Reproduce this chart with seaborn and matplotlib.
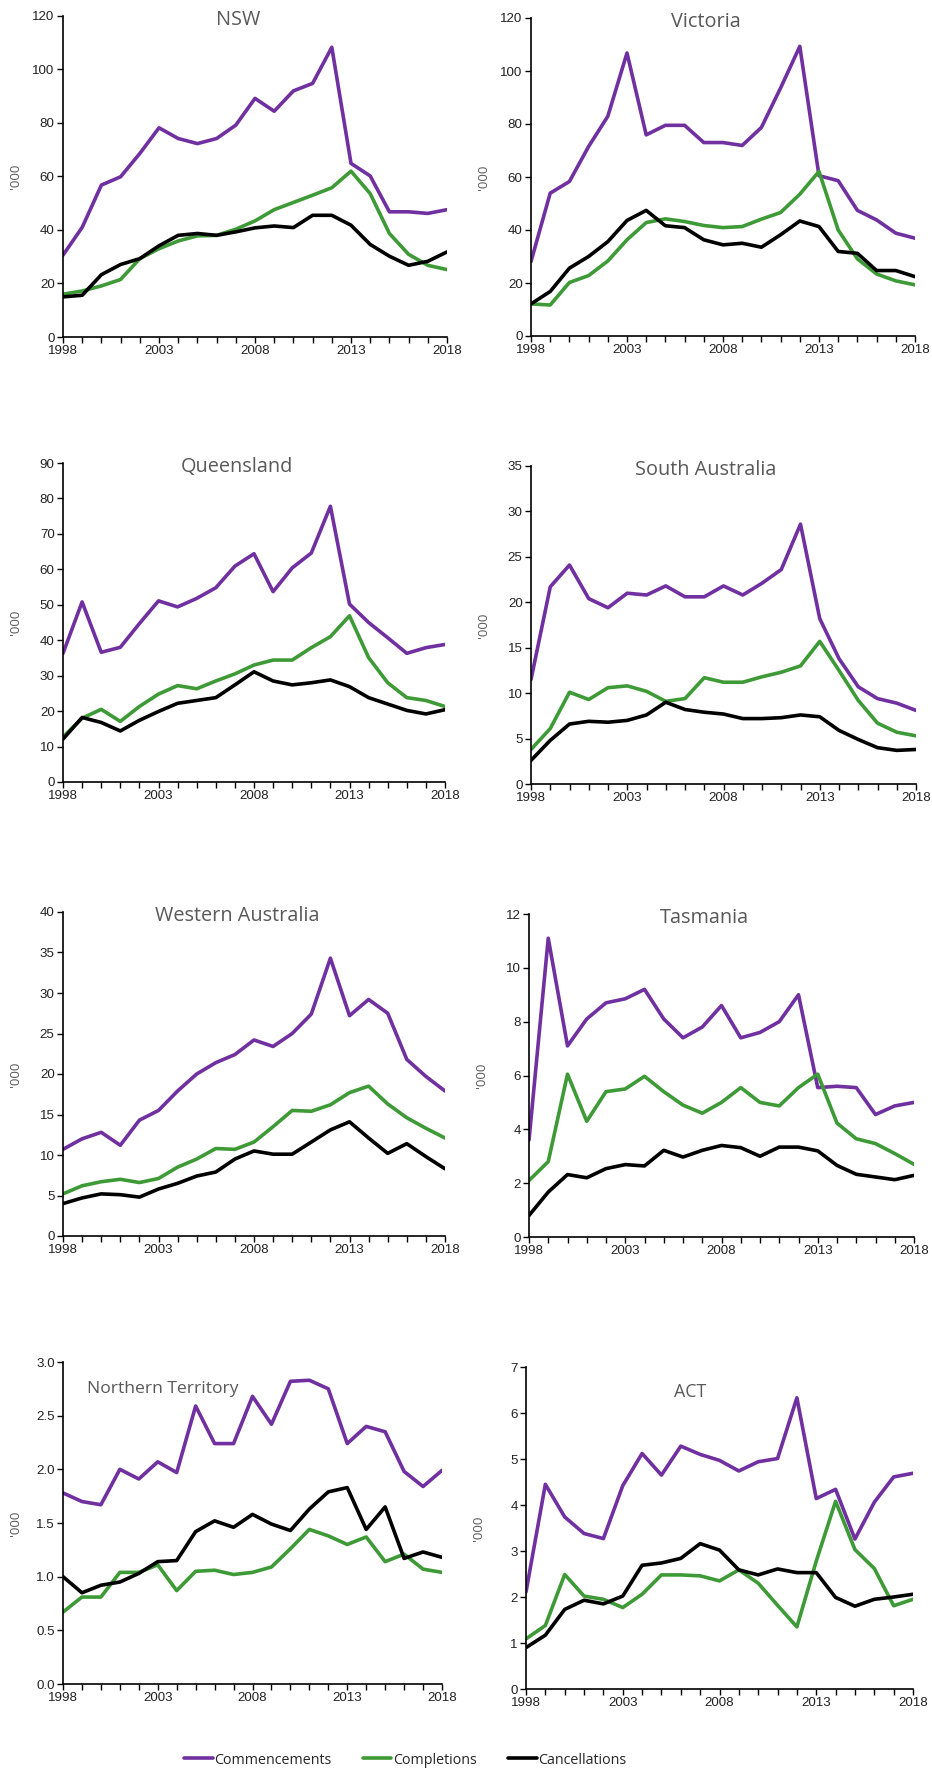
import numpy as np
import pandas as pd
import matplotlib
matplotlib.use("Agg")
import matplotlib.pyplot as plt
import seaborn as sns
from matplotlib.lines import Line2D

years = list(range(1998, 2019))
series_names = ["Commencements", "Completions", "Cancellations"]

nsw_comm = [30.6, 41.0, 56.8, 59.9, 68.6, 78.2, 74.2, 72.3, 74.2, 79.2, 89.2, 84.4, 92.0, 94.8, 108.3, 64.9, 60.2, 46.8, 46.8, 46.2, 47.6]
nsw_compl = [16.0, 17.2, 19.1, 21.5, 29.3, 33.0, 35.9, 37.8, 38.0, 40.3, 43.4, 47.6, 50.3, 53.0, 55.8, 62.0, 53.6, 38.7, 30.9, 26.8, 25.2]
nsw_canc = [15.0, 15.6, 23.3, 27.1, 29.3, 34.1, 38.0, 38.7, 38.0, 39.3, 40.8, 41.5, 40.9, 45.5, 45.5, 41.8, 34.6, 30.2, 26.8, 28.3, 31.8]

vic_comm = [28.1, 53.9, 58.3, 71.5, 82.9, 106.8, 75.9, 79.5, 79.5, 73.0, 73.0, 71.9, 78.7, 93.6, 109.3, 60.5, 58.6, 47.4, 43.8, 38.8, 36.9]
vic_compl = [12.1, 11.7, 20.2, 22.8, 28.3, 36.3, 42.8, 44.2, 43.2, 41.7, 40.9, 41.3, 44.1, 46.6, 53.5, 62.1, 40.0, 29.1, 23.4, 20.8, 19.3]
vic_canc = [12.1, 16.8, 25.6, 30.0, 35.6, 43.6, 47.4, 41.6, 40.9, 36.3, 34.4, 35.0, 33.5, 38.2, 43.4, 41.3, 31.9, 31.2, 24.7, 24.7, 22.4]

qld_comm = [36.3, 50.8, 36.6, 38.0, 44.7, 51.1, 49.4, 51.8, 54.8, 60.9, 64.4, 53.7, 60.4, 64.6, 77.8, 50.2, 45.0, 40.7, 36.3, 37.9, 38.8]
qld_compl = [12.7, 18.0, 20.5, 17.1, 21.3, 24.8, 27.2, 26.3, 28.5, 30.5, 33.0, 34.4, 34.4, 37.9, 41.0, 46.9, 35.1, 28.0, 23.8, 23.0, 21.3]
qld_canc = [12.1, 18.2, 16.8, 14.4, 17.4, 19.9, 22.2, 23.0, 23.8, 27.4, 31.1, 28.5, 27.4, 28.0, 28.8, 26.9, 23.8, 22.0, 20.2, 19.2, 20.4]

sa_comm = [11.5, 21.7, 24.1, 20.4, 19.4, 21.0, 20.8, 21.8, 20.6, 20.6, 21.8, 20.8, 22.1, 23.6, 28.6, 18.2, 13.8, 10.7, 9.4, 8.9, 8.1]
sa_compl = [3.8, 6.1, 10.1, 9.3, 10.6, 10.8, 10.2, 9.1, 9.4, 11.7, 11.2, 11.2, 11.8, 12.3, 13.0, 15.7, 12.5, 9.2, 6.7, 5.7, 5.3]
sa_canc = [2.6, 4.8, 6.6, 6.9, 6.8, 7.0, 7.6, 9.0, 8.2, 7.9, 7.7, 7.2, 7.2, 7.3, 7.6, 7.4, 5.9, 4.9, 4.0, 3.7, 3.8]

wa_comm = [10.7, 12.0, 12.8, 11.2, 14.3, 15.5, 17.9, 20.0, 21.4, 22.4, 24.2, 23.4, 25.0, 27.4, 34.3, 27.2, 29.2, 27.5, 21.8, 19.7, 17.9]
wa_compl = [5.2, 6.2, 6.7, 7.0, 6.6, 7.1, 8.5, 9.5, 10.8, 10.7, 11.6, 13.5, 15.5, 15.4, 16.2, 17.7, 18.5, 16.3, 14.6, 13.3, 12.1]
wa_canc = [4.0, 4.7, 5.2, 5.1, 4.8, 5.8, 6.5, 7.4, 7.9, 9.5, 10.5, 10.1, 10.1, 11.6, 13.1, 14.1, 12.1, 10.2, 11.4, 9.8, 8.3]

tas_comm = [3.6, 11.1, 7.1, 8.1, 8.7, 8.85, 9.2, 8.1, 7.4, 7.8, 8.6, 7.4, 7.6, 8.0, 9.0, 5.55, 5.6, 5.55, 4.55, 4.87, 5.0]
tas_compl = [2.1, 2.8, 6.05, 4.3, 5.4, 5.5, 5.97, 5.4, 4.9, 4.6, 5.0, 5.55, 5.0, 4.87, 5.55, 6.05, 4.23, 3.65, 3.47, 3.1, 2.7]
tas_canc = [0.8, 1.67, 2.32, 2.2, 2.54, 2.69, 2.64, 3.22, 2.97, 3.22, 3.4, 3.32, 3.0, 3.34, 3.34, 3.2, 2.66, 2.33, 2.23, 2.13, 2.29]

nt_comm = [1.78, 1.70, 1.67, 2.00, 1.91, 2.07, 1.97, 2.59, 2.24, 2.24, 2.68, 2.42, 2.82, 2.83, 2.75, 2.24, 2.40, 2.35, 1.98, 1.84, 1.99]
nt_compl = [0.67, 0.81, 0.81, 1.04, 1.04, 1.11, 0.87, 1.05, 1.06, 1.02, 1.04, 1.09, 1.26, 1.44, 1.38, 1.30, 1.37, 1.14, 1.21, 1.07, 1.04]
nt_canc = [1.00, 0.85, 0.92, 0.95, 1.03, 1.14, 1.15, 1.42, 1.52, 1.46, 1.58, 1.49, 1.43, 1.63, 1.79, 1.83, 1.44, 1.65, 1.17, 1.23, 1.18]

act_comm = [2.11, 4.45, 3.74, 3.38, 3.27, 4.42, 5.12, 4.65, 5.28, 5.10, 4.97, 4.74, 4.94, 5.01, 6.33, 4.14, 4.34, 3.26, 4.06, 4.61, 4.69]
act_compl = [1.09, 1.38, 2.49, 2.02, 1.95, 1.77, 2.06, 2.48, 2.48, 2.46, 2.35, 2.59, 2.30, 1.82, 1.35, 2.78, 4.08, 3.03, 2.62, 1.81, 1.95]
act_canc = [0.90, 1.17, 1.73, 1.93, 1.85, 2.02, 2.69, 2.74, 2.84, 3.16, 3.02, 2.59, 2.48, 2.61, 2.53, 2.53, 1.99, 1.80, 1.95, 2.00, 2.06]

states = ["NSW", "Victoria", "Queensland", "South Australia",
          "Western Australia", "Tasmania", "Northern Territory", "ACT"]
state_data = {
    "NSW": (nsw_comm, nsw_compl, nsw_canc),
    "Victoria": (vic_comm, vic_compl, vic_canc),
    "Queensland": (qld_comm, qld_compl, qld_canc),
    "South Australia": (sa_comm, sa_compl, sa_canc),
    "Western Australia": (wa_comm, wa_compl, wa_canc),
    "Tasmania": (tas_comm, tas_compl, tas_canc),
    "Northern Territory": (nt_comm, nt_compl, nt_canc),
    "ACT": (act_comm, act_compl, act_canc),
}

# y-axis max and step for each panel
y_max = {"NSW": 120, "Victoria": 120, "Queensland": 90, "South Australia": 35,
         "Western Australia": 40, "Tasmania": 12, "Northern Territory": 3.0, "ACT": 7}
y_step = {"NSW": 20, "Victoria": 20, "Queensland": 10, "South Australia": 5,
          "Western Australia": 5, "Tasmania": 2, "Northern Territory": 0.5, "ACT": 1}

rows = []
for st in states:
    for name, vals in zip(series_names, state_data[st]):
        for yr, v in zip(years, vals):
            rows.append({"State": st, "Series": name, "Year": yr, "Value": v})
df = pd.DataFrame(rows)

sns.set_theme(style="white")
plt.rcParams["font.family"] = ["Liberation Sans", "DejaVu Sans"]

palette = {"Commencements": "#7030A0", "Completions": "#3E9A36", "Cancellations": "#000000"}

W, H = 932, 1769
fig = plt.figure(figsize=(W / 100, H / 100), dpi=100)

# axes boxes in pixels: left, top, right, bottom
boxes = {
    "NSW": (63, 16, 447, 337),
    "Victoria": (531, 18, 915, 336),
    "Queensland": (63, 463, 445, 782),
    "South Australia": (531, 466, 916, 784),
    "Western Australia": (63, 912, 445, 1236),
    "Tasmania": (529, 914, 914, 1237),
    "Northern Territory": (63, 1362, 442, 1684),
    "ACT": (526, 1367, 913, 1689),
}
# panel title: x, y (axes fraction) and font size
title_pos = {
    "NSW": (0.455, 0.987, 14.3), "Victoria": (0.455, 0.987, 14.3),
    "Queensland": (0.455, 0.987, 14.3), "South Australia": (0.455, 0.987, 14.3),
    "Western Australia": (0.455, 0.987, 14.3), "Tasmania": (0.455, 0.987, 14.3),
    "Northern Territory": (0.263, 0.916, 12.6), "ACT": (0.424, 0.922, 12.8),
}

for st in states:
    l, t, r, b = boxes[st]
    ax = fig.add_axes([l / W, 1 - b / H, (r - l) / W, (b - t) / H])
    sub = df[df["State"] == st]
    sns.lineplot(data=sub, x="Year", y="Value", hue="Series", hue_order=series_names,
                 palette=palette, linewidth=2.6, legend=False, ax=ax)
    ax.set_xlim(1998, 2018)
    ax.set_ylim(0, y_max[st])
    ax.set_yticks(np.arange(0, y_max[st] + y_step[st] / 2, y_step[st]))
    if st == "Northern Territory":
        ax.yaxis.set_major_formatter(matplotlib.ticker.FormatStrFormatter("%.1f"))
    else:
        ax.yaxis.set_major_formatter(matplotlib.ticker.FormatStrFormatter("%g"))
    ax.set_xticks([1998, 2003, 2008, 2013, 2018])
    ax.set_xticks(years, minor=True)
    ax.tick_params(axis="both", which="major", direction="out", length=4, width=1,
                   color="black", labelsize=9.6, labelcolor="#222222", pad=2, bottom=True, left=True)
    ax.tick_params(axis="x", which="minor", direction="out", length=4, width=1,
                   color="black", bottom=True)
    for side in ["top", "right"]:
        ax.spines[side].set_visible(False)
    for side in ["left", "bottom"]:
        ax.spines[side].set_color("black")
        ax.spines[side].set_linewidth(1.2)
    ax.set_xlabel("")
    ax.set_ylabel("'000", fontsize=9.5, color="#595959", family=["Open Sans", "DejaVu Sans"])
    ax.yaxis.set_label_coords(-41 / (r - l), 0.5)
    tx, ty, tsize = title_pos[st]
    ax.text(tx, ty, st, transform=ax.transAxes, ha="center", va="center",
            fontsize=tsize, color="#595959", family=["Open Sans", "DejaVu Sans"])
    ax.grid(False)

handles = [Line2D([0], [0], color=palette[n], linewidth=2.6) for n in series_names]
fig.legend(handles, series_names, loc="center", bbox_to_anchor=(405 / W, 1 - 1760 / H),
           ncol=3, frameon=False, handlelength=2.0, handletextpad=0.1, columnspacing=2.2,
           prop={"family": ["Open Sans", "DejaVu Sans"], "size": 10.3})

fig.savefig("out.png", dpi=100, facecolor="white")
